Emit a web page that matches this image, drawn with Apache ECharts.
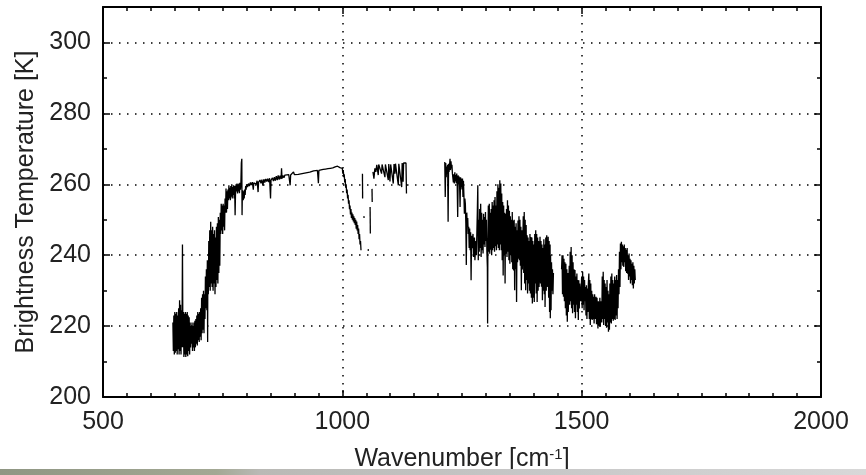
<!DOCTYPE html>
<html>
<head>
<meta charset="utf-8">
<script src="https://cdn.jsdelivr.net/npm/echarts@6/dist/echarts.min.js"></script>
<style>
  html, body { margin: 0; padding: 0; background: #fff; }
  #chart { width: 866px; height: 475px; }
</style>
</head>
<body>
<div id="chart"></div>
<script>
// Tick labels of both axes
const xTicks = [500, 1000, 1500, 2000];
const yTicks = [200, 220, 240, 260, 280, 300];
const yTop = 310;

// Brightness temperature spectrum, [wavenumber cm^-1, temperature K]
// CO2 band edge, 646-802 cm^-1
const co2Band = [
  [646,221],[647,213],[648,223],[649,212],[650,224],[651,212.5],[652,223.5],[653,213],[654,224],[655,212],
  [656,223],[657,213.5],[658,225],[659,212],[660,227.3],[661,213],[662,226],[663,212],[664,224.5],[665,214],
  [666,243],[667,214],[668,224],[669,211.3],[670,223.5],[671,212],[672,224],[673,211.3],[674,223.5],[675,212],
  [676,224],[677,211.5],[678,223],[679,213],[680,222.5],[681,212],[682,221],[683,214],[684,220],[685,215],
  [686,221],[687,213],[688,220],[689,214],[690,221],[691,213],[692,221.5],[693,214],[694,222],[695,215],
  [696,223],[697,214.5],[698,224],[699,216],[700,223.5],[701,215.5],[702,224],[703,217],[704,225],[705,216],
  [706,228],[707,218],[708,229],[709,219],[710,230],[711,218],[712,229],[713,222],[714,234],[715,225],
  [716,236],[717,224.5],[718,238.6],[718.6,215.5],[719,237],[720,229],[721,244],[722,231],[723,247],[724,230],
  [725,249.4],[726,232],[727,247],[728,231],[729,248],[730,230],[731,246],[732,232],[733,247],[734,229],
  [735,245],[736,231],[737,248],[738,233],[739,249],[740,232],[741,250.8],[742,235],[743,250],[744,237],
  [745,252],[746,246],[747,254.5],[748,247],[749,254],[750,246],[751,254.5],[752,248],[753,254],[754,247],
  [755,256],[756,252],[757,258.8],[758,252],[759,258],[760,253],[761,258.5],[762,255.5],[763,259.7],[764,256],
  [765,259],[766,255.5],[767,259.5],[768,256.5],[769,259.7],[770,256],[771,259.2],[772,257],[773,259.7],[774,256],
  [775,259.5],[776,251.3],[777,258.5],[778,260],[779,258],[780,260.2],[781,257.4],[782,260],[783,258],[784,260.2],
  [785,257.5],[786,260.4],[787,258.5],[788,260],[789,266],[790,267.2],[790.5,251.3],[791,256],[792,258.3],[793,255.5],
  [794,258],[795,256],[796,258.5],[797,257],[798,259.5],[799,258.5],[800,260],[802,259.2]
];

// Atmospheric window, 804-999 cm^-1
const windowLow = [
  [804,260.2],[806,259.5],[808,260.5],[810,259.8],[812,260.6],[814,258.5],[815,260.4],[818,260.8],[820,260],[822,261],
  [824,257.8],[825,260.6],[828,261.2],[830,260.3],[832,261.3],[834,259.6],[836,261.4],[838,260.5],[840,261.5],[842,260.8],
  [844,261.6],[846,260.6],[848,261.7],[850,256],[851,261.2],[854,261.8],[856,260.9],[858,262],[860,261],[862,262.3],
  [864,261.2],[866,262.5],[868,261.3],[870,262.4],[872,261.5],[873,264.5],[874,261.6],[876,262.5],[878,261.8],[880,262.6],
  [884,262.2],[888,262.7],[891,259.7],[892,262.6],[896,262.9],[898,263.5],[900,262.7],[904,263],[908,262.8],[912,263.2],
  [916,263],[920,263.3],[924,263.2],[928,263.5],[932,263.4],[936,263.6],[940,263.8],[944,263.7],[948,263.9],[950,260.3],
  [951,263.9],[955,264.1],[960,264.2],[965,264.3],[970,264.4],[975,264.5],[980,264.6],[985,264.9],[990,265.1],[995,264.7],
  [999,264.3]
];

// Ozone band wing, 1000-1039 cm^-1
const ozoneWing = [
  [1000,264.5],[1001,263],[1002,264],[1003,262],[1004,262.8],[1005,260.5],[1006,261.5],[1007,259],[1008,260],[1009,257.5],
  [1010,258.5],[1011,256],[1012,257],[1013,254.5],[1014,255.5],[1015,253],[1016,254],[1017,251.5],[1018,253],[1019,250.5],
  [1020,252],[1021,250],[1022,251.5],[1023,249.5],[1024,251],[1025,249],[1026,250.5],[1027,248.5],[1028,250],[1029,247.5],
  [1030,249.5],[1031,247],[1032,248.5],[1033,246],[1034,247.5],[1035,244.5],[1036,246],[1037,243],[1038,244],[1039,241.4]
];

// Isolated samples inside the ozone band
const ozoneBits = [
  [[1042,263],[1042.4,256]],
  [[1045,251],[1045.4,250.5]],
  [[1054,241.7],[1054.4,241.2]],
  [[1058,253.6],[1058.5,246.1]],
  [[1062,258.7],[1062.4,255]]
];

// Window beyond the ozone band, 1064-1134 cm^-1
const windowHigh = [
  [1064,263.5],[1065,264],[1066,261.6],[1068,264.5],[1070,263.5],[1072,265.5],[1074,265],[1075,262.6],[1076,265.6],[1079,265.3],
  [1082,263],[1083,265.6],[1086,265.4],[1089,262],[1090,265.6],[1093,265.5],[1096,261.2],[1097,265.7],[1099.5,260.8],[1101,265.6],
  [1104,265.8],[1106.4,260.2],[1108,265.7],[1110,263],[1111,265.8],[1114,265.9],[1117,259.7],[1118,265.8],[1121,265.9],[1124,259.2],
  [1125,266],[1127,260.7],[1128,266],[1131,266.3],[1133,266],[1134,257.4]
];

// Water vapour band, 1214-1441 cm^-1
const waterBandA = [
  [1214,266.3],[1215,256.4],[1216,266],[1217,262],[1218,265],[1219,263],[1220,265.5],[1221,249.4],[1222,265.8],[1223,263.5],
  [1225,267.2],[1226,264],[1227,266.5],[1228,264.5],[1229,265.5],[1230,263],[1231,262.5],[1232,260.5],[1233,262.8],[1234,260.2],
  [1235,263.4],[1236,260.8],[1237,262.6],[1238,260.3],[1239,263],[1240,259.8],[1241,250.8],[1242,262.5],[1243,260],[1244,262.2],
  [1245,259.5],[1246,253.6],[1247,262],[1248,259.2],[1249,261.6],[1250,258.5],[1251,261.6],[1252,256.4],[1253,261],[1254,257],
  [1255,251.7],[1256,256],[1257,254.5],[1258,249],[1259,237.2],[1260,252],[1261,248],[1262,250.5],[1263,246],[1264,248],
  [1265,242],[1266,247.5],[1267,241.4],[1268,246.5],[1269,232.9],[1270,245.5],[1271,242],[1273,246],[1274,239.5],[1276,245],
  [1277,238.6],[1279,244],[1280,240],[1282,252],[1283,259.7],[1284,238.6],[1285,250],[1286,241],[1287,253],[1288,242],
  [1289,254.5],[1290,239.5],[1291,252],[1292,241.4],[1293,250],[1294,240.5],[1295,251.7],[1296,243],[1297,250.8],[1298,242.3],
  [1299,252.2],[1300,244],[1301,250],[1302,241],[1303,236.7],[1303.5,220.7],[1304,240],[1305,254],[1306,241],[1307,254.5],
  [1308,240.4],[1309,252],[1310,241.5],[1311,253],[1312,240],[1313,255],[1314,241.4],[1315,254],[1316,242],[1317,255.5],
  [1318,241],[1319,256.4],[1320,242.5],[1321,254],[1322,241.4],[1323,258],[1324,243],[1325,260],[1326,242],[1327,259],
  [1328,241.4],[1329,261.1],[1330,243],[1331,260.2],[1332,241.4],[1333,257.4],[1334,238.6],[1335,255],[1336,234.3],[1337,254],
  [1338,240],[1339,252],[1340,232],[1341,251.7],[1342,240.4],[1343,253],[1344,239.5],[1345,255.5],[1346,241],[1347,254],
  [1348,238.6],[1349,252.5],[1350,237.6],[1351,251],[1352,240],[1353,250],[1354,238],[1355,252.2],[1356,236],[1357,249.8],
  [1358,235.7],[1359,250],[1360,230.1],[1361,248],[1362,236],[1363,249],[1364,226.8],[1365,247],[1366,238],[1367,249.8],
  [1368,239],[1369,251],[1370,238.6],[1371,250],[1372,237],[1373,248],[1374,230.1],[1375,247],[1376,236],[1378,251],
  [1379,235],[1380,252.2],[1381,232],[1382,250],[1383,230.1],[1384,248.5],[1385,233],[1386,245.6],[1387,229.2],[1388,245],
  [1389,232],[1390,244],[1391,230],[1392,246],[1393,229.2],[1394,245.1],[1395,228],[1396,245],[1397,226.4],[1398,244],
  [1399,228],[1400,243],[1401,226.8],[1402,246],[1403,232],[1404,247],[1405,229.2],[1406,246],[1407,226.8],[1408,245],
  [1409,230],[1410,244],[1411,231],[1413,245.2],[1414,232],[1415,244],[1416,231.1],[1417,243],[1418,227.3],[1419,242],
  [1420,230],[1421,244.5],[1422,229],[1423,243],[1423.5,225.4],[1425,245],[1426,230],[1427,245.6],[1428,231],[1430,245.2],
  [1431,228],[1432,244],[1433,224],[1434,243],[1434.5,222.2],[1435,240],[1436,224.5],[1437,238],[1438,230],[1439,236],
  [1440,229],[1441,235]
];

// Water vapour band, 1458-1612 cm^-1
const waterBandB = [
  [1458,236],[1459,240],[1460,229],[1461,240],[1462,228.3],[1463,239],[1464,227],[1465,238],[1466,225],[1467,237.6],
  [1468,223],[1469,236],[1470,221.2],[1471,235],[1472,224],[1474,237],[1475,226],[1476,241],[1477,227],[1478,242.3],
  [1479,225],[1480,240],[1481,223.6],[1482,238],[1483,226],[1484,236],[1485,224],[1486,235.8],[1487,222.2],[1488,234],
  [1489,226],[1490,234.8],[1491,224],[1492,233],[1493,221.7],[1494,232.9],[1495,225],[1496,232],[1498,227],[1500,234],
  [1501,225],[1502,235.3],[1503,226],[1504,234],[1505,224.5],[1506,233],[1507,227],[1508,231],[1509,223],[1510,231.5],
  [1511,222],[1512,230.6],[1513,224],[1514,232],[1515,234.8],[1516,222],[1517,233],[1518,220.3],[1519,232],[1520,222],
  [1521,230],[1522,221.7],[1523,229],[1524,222],[1525,228.3],[1526,220.7],[1527,229],[1528,222],[1530,228.3],[1531,220.5],
  [1532,228],[1534,219.3],[1535,227],[1537,220],[1538,228],[1539,219.8],[1540,227],[1542,221],[1543,234],[1544,222],
  [1545,235.3],[1546,220.3],[1547,233],[1548,222],[1549,232],[1550,220],[1551,231],[1552,219.5],[1553,233],[1554,221],
  [1555,230],[1556,218.4],[1557,229],[1558,219],[1559,232],[1560,221],[1561,234],[1562,220.7],[1563,234.8],[1564,222],
  [1565,233],[1566,221.5],[1567,232],[1568,222],[1569,234],[1570,221.7],[1571,233],[1572,223],[1573,234.4],[1574,222],
  [1575,233],[1576,225],[1577,236],[1578,229],[1579,241],[1580,231],[1581,243.3],[1582,236],[1583,243.8],[1584,238],
  [1585,243],[1586,237],[1587,242.5],[1588,236.7],[1589,243],[1590,238],[1591,242],[1592,235.5],[1593,241.5],[1594,235],
  [1595,242],[1596,234.8],[1597,240],[1598,233],[1599,240.5],[1600,234],[1601,239],[1602,232],[1603,238.6],[1604,233],
  [1605,237.6],[1606,231.5],[1607,238],[1608,230.6],[1609,237],[1610,232],[1611,236],[1612,233]
];

const font = "'Liberation Sans','Arial',sans-serif";
const fontSize = 25;
const ink = '#000';
const textInk = '#222';

const frameLine = { show: true, onZero: false, lineStyle: { color: ink, width: 2 } };
const majorTick = { show: true, inside: true, length: 7, lineStyle: { color: ink, width: 1.5 } };
const dotted = { show: true, lineStyle: { color: ink, width: 1.5, type: [1.5, 6.5] } };
const plain = (v) => String(v);

function trace(points) {
  return {
    type: 'line',
    data: points,
    symbol: 'none',
    showSymbol: false,
    silent: true,
    lineStyle: { color: ink, width: 1.3 },
    xAxisIndex: 0,
    yAxisIndex: 0,
    z: 3
  };
}

const xRange = { min: xTicks[0], max: xTicks[xTicks.length - 1], interval: xTicks[1] - xTicks[0] };
const yRange = { min: yTicks[0], max: yTop, interval: yTicks[1] - yTicks[0] };

const chart = echarts.init(document.getElementById('chart'), null, { renderer: 'canvas' });
chart.setOption({
  animation: false,
  backgroundColor: '#fff',
  grid: { left: 103, right: 45, top: 7, bottom: 78, containLabel: false, outerBoundsMode: 'none' },
  xAxis: [
    Object.assign({
      type: 'value', position: 'bottom',
      axisLine: frameLine,
      axisTick: majorTick,
      minorTick: { show: true, splitNumber: 10, length: 4, lineStyle: { color: ink, width: 1.5 } },
      splitLine: dotted,
      axisLabel: { fontSize: fontSize, color: textInk, fontFamily: font, margin: 13, formatter: plain },
      name: '{t|Wavenumber [cm}{s|-1}{t|]}',
      nameLocation: 'middle',
      nameGap: 50,
      nameTextStyle: {
        rich: {
          t: { fontSize: fontSize, fontFamily: font, color: textInk },
          s: { fontSize: 15, fontFamily: font, color: textInk, verticalAlign: 'top' }
        }
      }
    }, xRange),
    Object.assign({
      type: 'value', position: 'top',
      axisLine: frameLine,
      axisTick: majorTick,
      minorTick: { show: true, splitNumber: 10, length: 4, lineStyle: { color: ink, width: 1.5 } },
      splitLine: { show: false },
      axisLabel: { show: false }
    }, xRange)
  ],
  yAxis: [
    Object.assign({
      type: 'value', position: 'left',
      axisLine: frameLine,
      axisTick: majorTick,
      minorTick: { show: true, splitNumber: 2, length: 4, lineStyle: { color: ink, width: 1.5 } },
      splitLine: dotted,
      axisLabel: { fontSize: fontSize, color: textInk, fontFamily: font, margin: 12, showMaxLabel: false, formatter: plain },
      name: 'Brightness Temperature [K]',
      nameLocation: 'middle',
      nameGap: 60,
      nameTextStyle: { fontSize: fontSize, fontFamily: font, color: textInk }
    }, yRange),
    Object.assign({
      type: 'value', position: 'right',
      axisLine: frameLine,
      axisTick: majorTick,
      minorTick: { show: true, splitNumber: 2, length: 4, lineStyle: { color: ink, width: 1.5 } },
      splitLine: { show: false },
      axisLabel: { show: false }
    }, yRange)
  ],
  series: [
    trace(co2Band.concat(windowLow, ozoneWing)),
    ...ozoneBits.map(trace),
    trace(windowHigh),
    trace(waterBandA),
    trace(waterBandB)
  ],
  graphic: [{
    type: 'rect',
    left: 0,
    top: 469,
    z: 100,
    silent: true,
    shape: { width: 866, height: 6 },
    style: {
      fill: new echarts.graphic.LinearGradient(0, 0, 1, 0, [
        { offset: 0, color: '#8f9683' },
        { offset: 0.25, color: '#a3a894' },
        { offset: 0.3, color: '#b9b9b5' },
        { offset: 0.6, color: '#c6c6c6' },
        { offset: 1, color: '#d8d8d8' }
      ])
    }
  }]
});
</script>
</body>
</html>
